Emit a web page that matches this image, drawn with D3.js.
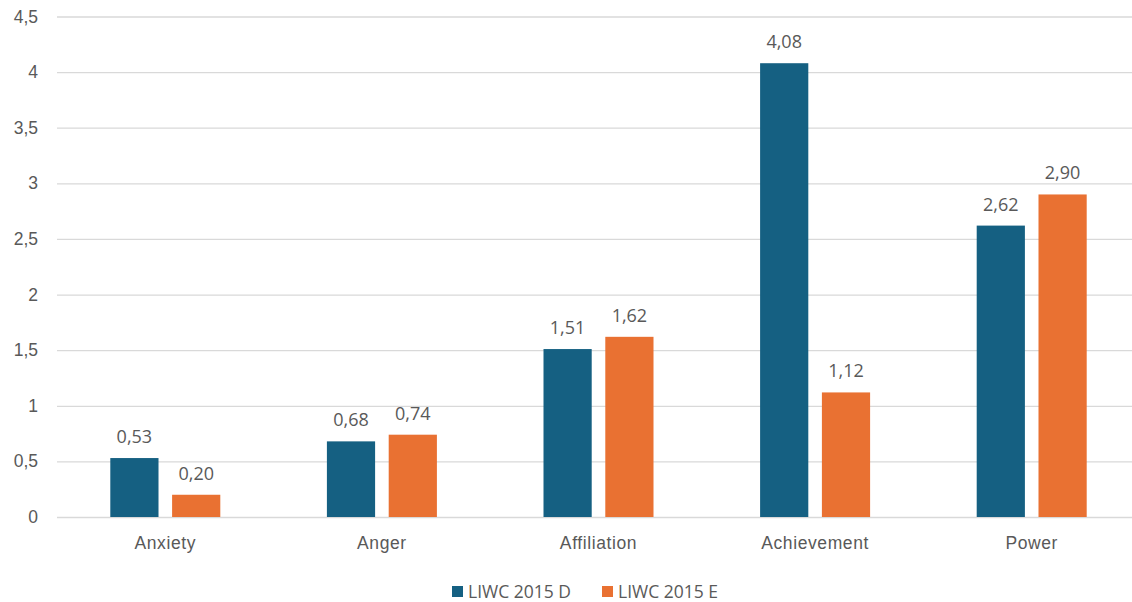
<!DOCTYPE html>
<html>
<head>
<meta charset="utf-8">
<script src="https://cdn.jsdelivr.net/npm/d3@7/dist/d3.min.js"></script>
<style>
  html, body { margin: 0; padding: 0; background: #fff; }
  svg { display: block; font-family: "Open Sans", "Noto Sans", sans-serif; }
</style>
</head>
<body>
<svg id="chart" width="1132" height="602"></svg>
<script>
// LIWC 2015 category scores, two corpora
const categories = ["Anxiety", "Anger", "Affiliation", "Achievement", "Power"];
const seriesNames = ["LIWC 2015 D", "LIWC 2015 E"];
const valuesD = [0.53, 0.68, 1.51, 4.08, 2.62];
const valuesE = [0.20, 0.74, 1.62, 1.12, 2.90];
const yTicks = [0, 0.5, 1, 1.5, 2, 2.5, 3, 3.5, 4, 4.5];
const colors = ["#156082", "#E97132"];

const svg = d3.select("#chart");
const textColor = "#595959";
const plotLeft = 57, plotRight = 1140, plotTop = 16.5, plotBottom = 517;

const fmt = (v, d) => d3.format("." + d + "f")(v).replace(".", ",");

const x = d3.scaleBand().domain(categories).range([plotLeft, plotRight]).paddingInner(0).paddingOuter(0);
const y = d3.scaleLinear().domain([0, 4.5]).range([plotBottom, plotTop]);
const inner = d3.scaleBand().domain(seriesNames).range([0, 110]).paddingInner(0.22);
const groupOffset = (x.bandwidth() - 110) / 2;

// gridlines and y labels
const yAxis = d3.axisLeft(y).tickValues(yTicks).tickSize(-(plotRight - plotLeft)).tickFormat(v => fmt(v, v % 1 ? 1 : 0)).tickPadding(19);
const gy = svg.append("g").attr("transform", `translate(${plotLeft},0)`).call(yAxis);
gy.select(".domain").remove();
gy.selectAll(".tick line").attr("stroke", "#d9d9d9").attr("stroke-width", 1.3);
gy.selectAll(".tick text").attr("fill", textColor).attr("font-size", 17.5);

// bars
const data = categories.map((c, i) => ({ cat: c, vals: [valuesD[i], valuesE[i]] }));
const groups = svg.append("g").selectAll("g").data(data).join("g")
  .attr("transform", d => `translate(${x(d.cat) + groupOffset},0)`);

groups.selectAll("rect").data(d => d.vals.map((v, j) => ({ v, s: seriesNames[j], j })))
  .join("rect")
  .attr("x", d => inner(d.s))
  .attr("width", inner.bandwidth())
  .attr("y", d => y(d.v))
  .attr("height", d => y(0) - y(d.v))
  .attr("fill", d => colors[d.j]);

groups.selectAll("text.val").data(d => d.vals.map((v, j) => ({ v, s: seriesNames[j] })))
  .join("text").attr("class", "val")
  .attr("x", d => inner(d.s) + inner.bandwidth() / 2)
  .attr("y", d => y(d.v) - 15)
  .attr("text-anchor", "middle")
  .attr("fill", textColor)
  .attr("font-size", 18)
  .text(d => fmt(d.v, 2));

// category axis labels
const xAxis = d3.axisBottom(x).tickSize(0).tickPadding(20);
const gx = svg.append("g").attr("transform", `translate(0,${plotBottom})`).call(xAxis);
gx.select(".domain").remove();
gx.selectAll(".tick text").attr("fill", textColor).attr("font-size", 17.5).attr("letter-spacing", 0.6);

// legend
const legendX = [452, 602];
const legend = svg.append("g").selectAll("g").data(seriesNames).join("g")
  .attr("transform", (d, i) => `translate(${legendX[i]},586)`);
legend.append("rect").attr("width", 11).attr("height", 11).attr("y", 0).attr("fill", (d, i) => colors[i]);
legend.append("text").attr("x", 16).attr("y", 11.5).attr("fill", textColor).attr("font-size", 17.5).text(d => d);
</script>
</body>
</html>
